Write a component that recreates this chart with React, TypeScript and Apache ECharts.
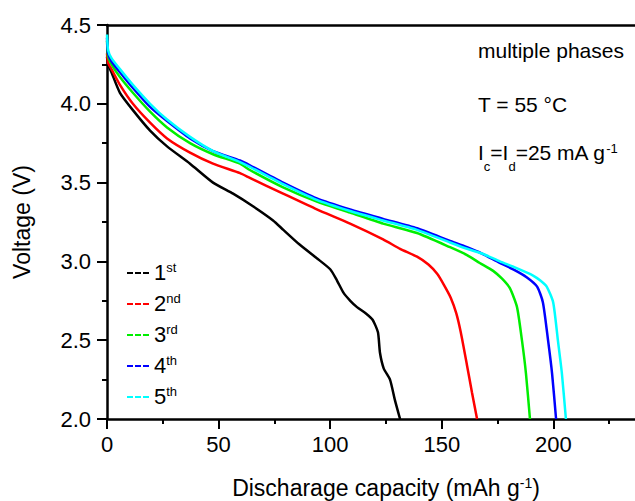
import React, { useEffect, useRef } from "react";
import * as echarts from "echarts";

const seriesNames = ["1st", "2nd", "3rd", "4th", "5th"];
const seriesColors = ["#000000", "#ff0000", "#00ee00", "#0000ff", "#00ffff"];

const cap1 = [0, 0.5, 2, 5.8, 11.6, 19.3, 26.9, 37.2, 47.5, 56.5, 65.4, 74.4, 79, 86, 94, 100, 103, 106, 109, 112, 116, 119, 121.4, 122.3, 124, 126.8, 129, 131.3];
const volt1 = [4.3, 4.25, 4.2, 4.07, 3.96, 3.83, 3.73, 3.62, 3.5, 3.43, 3.35, 3.26, 3.2, 3.11, 3.02, 2.95, 2.88, 2.8, 2.75, 2.71, 2.67, 2.63, 2.55, 2.42, 2.32, 2.25, 2.12, 2.0];

const cap2 = [0, 0.5, 2, 5.8, 11.6, 19.3, 26.9, 37.2, 47.5, 59.6, 64, 78.9, 94, 108.9, 123.7, 131.3, 138.9, 144, 148, 151, 154, 156.5, 158.5, 161.3, 163.5, 165.8];
const volt2 = [4.32, 4.26, 4.22, 4.12, 4.0, 3.88, 3.78, 3.69, 3.62, 3.56, 3.53, 3.43, 3.33, 3.24, 3.14, 3.08, 3.03, 2.98, 2.92, 2.85, 2.77, 2.67, 2.55, 2.34, 2.17, 2.0];

const cap3 = [0, 0.5, 2, 5.8, 11.6, 19.3, 26.9, 37.2, 47.5, 59.6, 64, 78.9, 94, 108.9, 123.7, 138.9, 153.7, 161.3, 167, 173, 177, 180.5, 183.7, 185.9, 187.7, 189.5];
const volt3 = [4.4, 4.3, 4.25, 4.17, 4.07, 3.95, 3.85, 3.75, 3.68, 3.62, 3.58, 3.47, 3.38, 3.31, 3.24, 3.18, 3.09, 3.04, 2.99, 2.94, 2.89, 2.83, 2.71, 2.5, 2.29, 2.0];

const cap4 = [0, 0.5, 2, 5.8, 11.6, 19.3, 26.9, 37.2, 47.5, 59.6, 64, 78.9, 94, 108.9, 123.7, 138.9, 153.7, 161.3, 168, 176, 182, 188, 192.7, 195.3, 197.6, 199.4, 201.2];
const volt4 = [4.42, 4.32, 4.27, 4.2, 4.1, 3.98, 3.89, 3.78, 3.7, 3.64, 3.61, 3.5, 3.4, 3.33, 3.27, 3.21, 3.13, 3.09, 3.05, 2.99, 2.95, 2.9, 2.84, 2.74, 2.5, 2.29, 2.0];

const cap5 = [0, 0.5, 2, 5.8, 11.6, 19.3, 26.9, 37.2, 47.5, 59.6, 64, 78.9, 94, 108.9, 123.7, 138.9, 153.7, 161.3, 168, 176, 183, 190.9, 194, 197, 199.9, 202, 203.8, 205.6];
const volt5 = [4.44, 4.34, 4.29, 4.22, 4.12, 4.0, 3.9, 3.79, 3.7, 3.63, 3.6, 3.49, 3.39, 3.32, 3.26, 3.2, 3.12, 3.08, 3.05, 3.0, 2.96, 2.91, 2.88, 2.84, 2.74, 2.5, 2.29, 2.0];

const caps = [cap1, cap2, cap3, cap4, cap5];
const volts = [volt1, volt2, volt3, volt4, volt5];

const xTicks = [0, 50, 100, 150, 200, 250];
const yTicks = [2.0, 2.5, 3.0, 3.5, 4.0, 4.5];

const annotations = [
  "multiple phases",
  "T = 55 °C",
  "{a|I}{sub|c}{a|=I}{sub|d}{a|=25 mA g}{sup|-1}",
];

const FONT = "Arial, 'Liberation Sans', sans-serif";

export default function App() {
  const ref = useRef<HTMLDivElement>(null);
  useEffect(() => {
    if (!ref.current) return;
    const chart = echarts.init(ref.current, null, { renderer: "svg" });
    const legendIcon = "path://M0,0h6v2H0z M8,0h6v2H8z M16,0h6v2h-6z";
    const option: any = {
      animation: false,
      backgroundColor: "#ffffff",
      textStyle: { fontFamily: FONT, color: "#000" },
      grid: { left: 107, top: 25, width: 558, height: 394, containLabel: false, outerBoundsMode: "none" },
      xAxis: [
        {
          type: "value",
          min: xTicks[0],
          max: xTicks[xTicks.length - 1],
          interval: 50,
          position: "bottom",
          name: "{a|Discharage capacity (mAh g}{s|-1}{a|)}",
          nameLocation: "middle",
          nameGap: 57,
          nameTextStyle: {
            rich: {
              a: { fontSize: 23, fontFamily: FONT, color: "#000", lineHeight: 26, verticalAlign: "top" },
              s: { fontSize: 14, fontFamily: FONT, color: "#000", lineHeight: 12, verticalAlign: "top" },
            },
          },
          axisLine: { show: true, onZero: false, lineStyle: { color: "#000", width: 2.5 } },
          axisTick: { show: true, inside: false, length: 10, lineStyle: { color: "#000", width: 2 } },
          minorTick: { show: true, splitNumber: 2, length: 5, lineStyle: { color: "#000", width: 2 } },
          axisLabel: {
            show: true,
            margin: 14,
            fontSize: 22,
            color: "#000",
            fontFamily: FONT,
            showMaxLabel: false,
            formatter: (v: number) => (v >= 250 ? "" : String(v)),
          },
          splitLine: { show: false },
        },
        {
          type: "value",
          min: xTicks[0],
          max: xTicks[xTicks.length - 1],
          position: "top",
          axisLine: { show: true, onZero: false, lineStyle: { color: "#000", width: 2.5 } },
          axisTick: { show: false },
          axisLabel: { show: false },
          splitLine: { show: false },
        },
      ],
      yAxis: {
        type: "value",
        min: yTicks[0],
        max: yTicks[yTicks.length - 1],
        interval: 0.5,
        name: "Voltage (V)",
        nameLocation: "middle",
        nameGap: 74,
        nameTextStyle: { fontSize: 23, fontFamily: FONT, color: "#000" },
        axisLine: { show: true, onZero: false, lineStyle: { color: "#000", width: 2.5 } },
        axisTick: { show: true, inside: false, length: 10, lineStyle: { color: "#000", width: 2 } },
        minorTick: { show: true, splitNumber: 2, length: 5, lineStyle: { color: "#000", width: 2 } },
        axisLabel: {
          margin: 16,
          fontSize: 22,
          color: "#000",
          fontFamily: FONT,
          formatter: (v: number) => v.toFixed(1),
        },
        splitLine: { show: false },
      },
      legend: {
        show: true,
        orient: "vertical",
        left: 122,
        top: 256,
        itemWidth: 22,
        itemHeight: 2,
        itemGap: 9,
        icon: legendIcon,
        data: seriesNames,
        formatter: (name: string) => `{n|${name.slice(0, 1)}}{s|${name.slice(1)}}`,
        textStyle: {
          color: "#000",
          rich: {
            n: { fontSize: 22, fontFamily: FONT, color: "#000", lineHeight: 24, verticalAlign: "top" },
            s: { fontSize: 13, fontFamily: FONT, color: "#000", lineHeight: 10, verticalAlign: "top" },
          },
        },
      },
      series: seriesNames.map((name, i) => ({
        name,
        type: "line",
        xAxisIndex: 0,
        yAxisIndex: 0,
        symbol: "none",
        smooth: 0.2,
        color: seriesColors[i],
        lineStyle: { color: seriesColors[i], width: 2.5 },
        data: caps[i].map((c, j) => [c, volts[i][j]]),
      })),
      graphic: [
        {
          type: "text",
          left: 478,
          top: 40,
          style: { text: annotations[0], font: `21px ${FONT}`, fill: "#000" },
        },
        {
          type: "text",
          left: 478,
          top: 94,
          style: { text: annotations[1], font: `21px ${FONT}`, fill: "#000" },
        },
        {
          type: "text",
          left: 478,
          top: 142,
          style: {
            text: annotations[2],
            fill: "#000",
            rich: {
              a: { fontSize: 21, fontFamily: FONT, fill: "#000", lineHeight: 24, verticalAlign: "top" },
              sub: { fontSize: 13, fontFamily: FONT, fill: "#000", lineHeight: 12, padding: [18, 0, 0, 0], verticalAlign: "top" },
              sup: { fontSize: 13, fontFamily: FONT, fill: "#000", lineHeight: 12, verticalAlign: "top" },
            },
          },
        },
      ],
    };
    chart.setOption(option);
    return () => chart.dispose();
  }, []);
  return (
    <div
      ref={ref}
      style={{ position: "absolute", left: 0, top: 0, width: 635, height: 501, overflow: "hidden" }}
    />
  );
}
